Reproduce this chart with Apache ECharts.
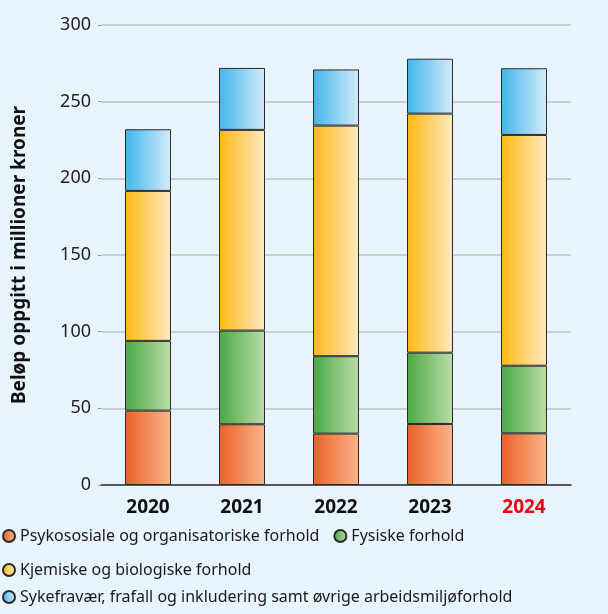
<!DOCTYPE html>
<html>
<head>
<meta charset="utf-8">
<script src="https://cdn.jsdelivr.net/npm/echarts@6/dist/echarts.min.js"></script>
<style>
  html, body { margin: 0; padding: 0; background: #e8f4fc; }
  #chart { width: 608px; height: 614px; }
</style>
</head>
<body>
<div id="chart"></div>
<script>
const years = ['2020', '2021', '2022', '2023', '2024']
const psykososiale = [48.5, 39.6, 33.5, 39.8, 33.7]
const fysiske = [45.5, 61.1, 50.5, 46.5, 44.1]
const kjemiske = [97.8, 130.9, 150.4, 155.9, 150.5]
const sykefravaer = [40.2, 40.4, 36.6, 35.8, 43.5]
const names = [
  'Psykososiale og organisatoriske forhold',
  'Fysiske forhold',
  'Kjemiske og biologiske forhold',
  'Sykefravær, frafall og inkludering samt øvrige arbeidsmiljøforhold',
]

const font = 'Noto Sans'

function grad(from, to) {
  return new echarts.graphic.LinearGradient(0, 0, 1, 0, [
    { offset: 0, color: from },
    { offset: 1, color: to },
  ])
}

const fills = [
  grad('#eb6126', '#f9b58c'),
  grad('#4aa944', '#bcdcaa'),
  grad('#fdb813', '#ffe9c2'),
  grad('#3fb6ea', '#d6ebfa'),
]

function bar(name, data, color) {
  return {
    name,
    type: 'bar',
    stack: 'total',
    data,
    barWidth: 46,
    itemStyle: { color, borderColor: '#2a2a2a', borderWidth: 1 },
  }
}

function legendRow(data, top) {
  return {
    data,
    top,
    left: 2,
    padding: 0,
    icon: 'circle',
    itemWidth: 12,
    itemHeight: 12,
    itemGap: 14,
    textStyle: { fontFamily: font, fontSize: 16, color: '#1a1a1a' },
    selectedMode: false,
  }
}

const chart = echarts.init(document.getElementById('chart'))
chart.setOption({
  backgroundColor: '#e8f4fc',
  animation: false,
  grid: { left: 101, right: 37, top: 25, bottom: 129 },
  legend: [
    legendRow([names[0], names[1]], 528),
    legendRow([names[2]], 562),
    legendRow([names[3]], 589),
  ],
  xAxis: {
    type: 'category',
    data: years,
    axisLine: { lineStyle: { color: '#333', width: 1.5 } },
    axisTick: { show: false },
    axisLabel: {
      margin: 13,
      fontFamily: font,
      fontSize: 19,
      fontWeight: 'bold',
      color: (v) => v === '2024' ? '#e30613' : '#111',
    },
  },
  yAxis: {
    type: 'value',
    min: 0,
    max: 300,
    interval: 50,
    name: 'Beløp oppgitt i millioner kroner',
    nameLocation: 'middle',
    nameGap: 72,
    nameTextStyle: { fontFamily: font, fontSize: 19, fontWeight: 'bold', color: '#111' },
    axisLine: { show: false },
    axisTick: { show: true, length: 3, lineStyle: { color: '#999' } },
    axisLabel: { margin: 10, fontFamily: font, fontSize: 18, color: '#222' },
    splitLine: { lineStyle: { color: '#c4c4c4', width: 1.5 } },
  },
  series: [
    bar(names[0], psykososiale, fills[0]),
    bar(names[1], fysiske, fills[1]),
    bar(names[2], kjemiske, fills[2]),
    bar(names[3], sykefravaer, fills[3]),
  ],
})
</script>
</body>
</html>
